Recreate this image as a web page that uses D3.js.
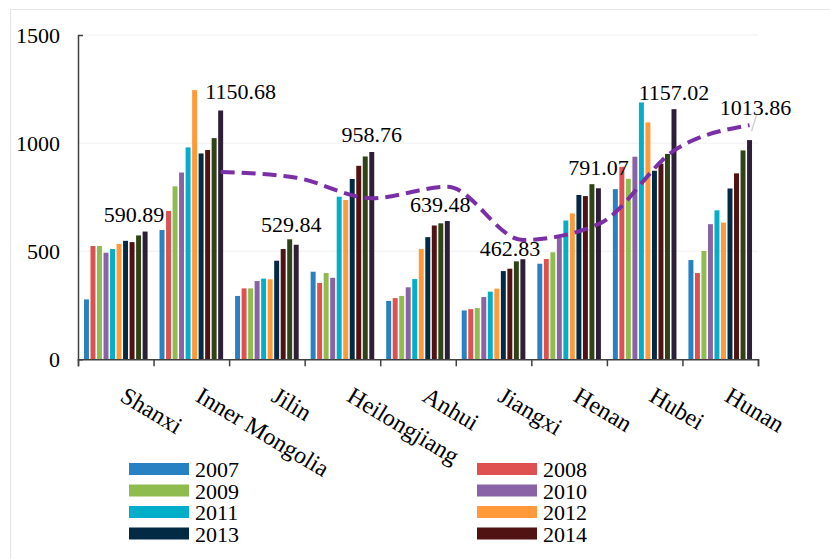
<!DOCTYPE html>
<html>
<head>
<meta charset="utf-8">
<script src="https://cdn.jsdelivr.net/npm/d3@7"></script>
<style>
  body { margin: 0; background: #fff; }
  text { font-family: "Liberation Serif", "Times New Roman", serif; fill: #000; }
</style>
</head>
<body>
<div id="chart"></div>
<script>
// provinces on the x axis
var provinces = ["Shanxi", "Inner Mongolia", "Jilin", "Heilongjiang", "Anhui", "Jiangxi", "Henan", "Hubei", "Hunan"];

// yearly series (last two are not in the legend)
var years = ["2007", "2008", "2009", "2010", "2011", "2012", "2013", "2014", "2015", "2016"];
var legendYears = ["2007", "2008", "2009", "2010", "2011", "2012", "2013", "2014"];

var v2007 = [277, 598, 293, 405, 270, 226, 442, 787, 459];
var v2008 = [524, 686, 328, 353, 283, 232, 464, 890, 399];
var v2009 = [524, 800, 328, 399, 293, 237, 495, 835, 501];
var v2010 = [493, 864, 362, 377, 333, 288, 561, 937, 625];
var v2011 = [510, 980, 373, 752, 371, 313, 642, 1188, 689];
var v2012 = [534, 1245, 370, 737, 510, 327, 675, 1096, 632];
var v2013 = [548, 952, 456, 834, 565, 408, 760, 872, 790];
var v2014 = [542, 968, 510, 895, 619, 419, 755, 905, 860];
var v2015 = [573, 1023, 555, 938, 629, 453, 810, 950, 966];
var v2016 = [590.89, 1150.68, 529.84, 958.76, 639.48, 462.83, 791.07, 1157.02, 1013.86];

// dashed trend line (no point for Shanxi)
var trend = [null, 867, 840, 745, 798, 552, 625, 965, 1083];

var yTicks = [0, 500, 1000, 1500];

var colors = ["#2781c2", "#df5050", "#8fbc4f", "#8963a6", "#03aec8", "#ff993a", "#022a44", "#511312", "#2f4317", "#2e1f38"];

// manual nudges of the value labels (dx, gap above bar)
var labelNudge = [[-11, 10], [20, 12], [-5, 13], [0, 10], [-7, 9], [-13, 3], [0, 13], [0, 9], [6, 25]];

var allSeries = [v2007, v2008, v2009, v2010, v2011, v2012, v2013, v2014, v2015, v2016];

var svgWidth = 830, svgHeight = 559;
var margin = { top: 35, left: 78 };
var width = 680, height = 324.3;

var svg = d3.select("#chart").append("svg").attr("width", svgWidth).attr("height", svgHeight);

// faint outer border
svg.append("rect")
    .attr("x", 10.5).attr("y", 9.5)
    .attr("width", 840).attr("height", 570)
    .attr("fill", "none").attr("stroke", "#e6e6e6");

var chartGroup = svg.append("g").attr("transform", `translate(${margin.left}, ${margin.top})`);

var x0 = d3.scaleBand().domain(provinces).range([0, width]).padding(0);
var x1 = d3.scaleBand().domain(years).range([5.2, x0.bandwidth() - 5.2]).paddingInner(0.24).paddingOuter(0.12);
var y = d3.scaleLinear().domain([0, 1500]).range([height, 0]);

// gridlines
chartGroup.selectAll(".grid")
    .data(yTicks.filter(d => d > 0))
    .enter().append("line")
    .attr("x1", 0).attr("x2", width)
    .attr("y1", d => y(d)).attr("y2", d => y(d))
    .attr("stroke", "#efefef").attr("stroke-width", 1);

// bars
var groups = chartGroup.selectAll(".prov")
    .data(provinces)
    .enter().append("g")
    .attr("transform", d => `translate(${x0(d)}, 0)`);

groups.selectAll("rect")
    .data((p, i) => years.map((yr, k) => ({ year: yr, k: k, value: allSeries[k][i] })))
    .enter().append("rect")
    .attr("x", d => x1(d.year))
    .attr("width", x1.bandwidth())
    .attr("y", d => y(d.value))
    .attr("height", d => height - y(d.value))
    .attr("fill", d => colors[d.k]);

// axes
var yAxis = d3.axisLeft(y).tickValues(yTicks).tickFormat(d3.format("d"))
    .tickSizeInner(0).tickSizeOuter(-5).tickPadding(18);
var yg = chartGroup.append("g").call(yAxis);
yg.selectAll("text").attr("font-size", "22px").style("font-family", "'Liberation Serif', serif").attr("fill", "#000");
yg.select(".domain").attr("stroke", "#404040").attr("stroke-width", 1.5);

var bounds = d3.scaleLinear().domain([0, provinces.length]).range([0, width]);
var xAxis = d3.axisBottom(bounds).tickValues(d3.range(provinces.length + 1)).tickSize(7).tickFormat("");
var xg = chartGroup.append("g").attr("transform", `translate(0, ${height})`).call(xAxis);
xg.select(".domain").attr("stroke", "#404040").attr("stroke-width", 1.5);
xg.selectAll(".tick line").attr("stroke", "#404040").attr("stroke-width", 1.5);

// rotated category labels
chartGroup.selectAll(".catLabel")
    .data(provinces)
    .enter().append("text")
    .attr("transform", d => `translate(${x0(d) + x0.bandwidth() / 2 + 3}, ${height + 41}) rotate(31)`)
    .attr("font-size", "24px")
    .text(d => d);

// dashed trend line through the last bar of each group
var lastX = i => x0(provinces[i]) + x1("2016") + x1.bandwidth() / 2;
var line = d3.line()
    .defined(d => d.v !== null)
    .x(d => lastX(d.i))
    .y(d => y(d.v))
    .curve(d3.curveMonotoneX);

chartGroup.append("path")
    .datum(trend.map((v, i) => ({ v: v, i: i })))
    .attr("d", line)
    .attr("fill", "none")
    .attr("stroke", "#7a2fa6")
    .attr("stroke-width", 4)
    .attr("stroke-dasharray", "14,7");

// value labels on the last series
v2016.forEach(function(v, i) {
    var lx = lastX(i) + labelNudge[i][0];
    var ly = y(v) - labelNudge[i][1];
    if (labelNudge[i][1] > 20) {
        chartGroup.append("line")
            .attr("x1", lastX(i) + 7).attr("y1", ly)
            .attr("x2", lastX(i) + 2).attr("y2", y(v) - 9)
            .attr("stroke", "#d0d0d0").attr("stroke-width", 1.5);
    }
    chartGroup.append("text")
        .attr("x", lx).attr("y", ly)
        .attr("text-anchor", "middle")
        .attr("font-size", "22px")
        .text(v.toFixed(2));
});

// legend, two columns
var legend = svg.append("g");
legendYears.forEach(function(yr, k) {
    var col = k % 2, row = Math.floor(k / 2);
    var lx = col === 0 ? 129 : 477;
    var ly = 463 + row * 21.5;
    legend.append("rect")
        .attr("x", lx).attr("y", ly)
        .attr("width", 60).attr("height", 12)
        .attr("fill", colors[k]);
    legend.append("text")
        .attr("x", lx + 66).attr("y", ly + 14)
        .attr("font-size", "22px")
        .text(yr);
});
</script>
</body>
</html>
